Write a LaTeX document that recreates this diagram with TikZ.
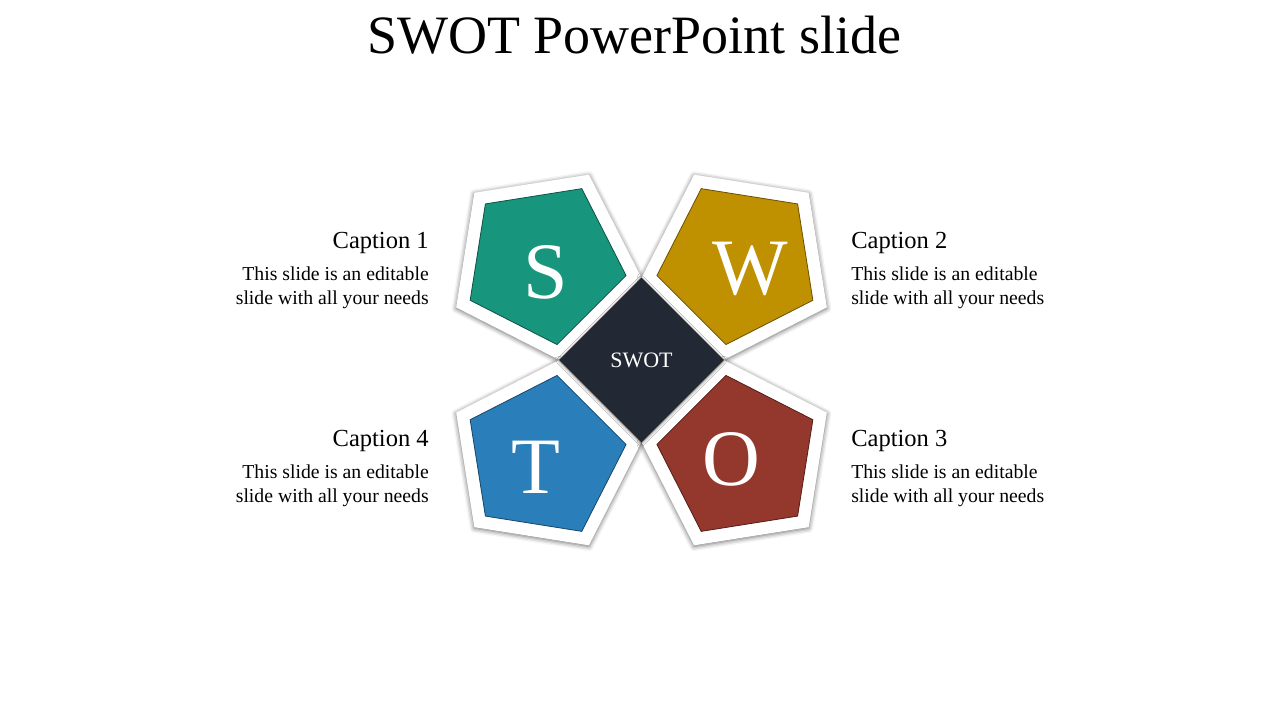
\documentclass[tikz,border=0pt]{standalone}
\usepackage{fontspec}
\setmainfont{Liberation Serif}
\usetikzlibrary{shapes.geometric}
\usetikzlibrary{shadows.blur}

\definecolor{swotS}{HTML}{17967D}
\definecolor{swotW}{HTML}{BF9000}
\definecolor{swotO}{HTML}{94382D}
\definecolor{swotT}{HTML}{2A7FBA}
\definecolor{swotD}{HTML}{222834}

\begin{document}
\begin{tikzpicture}[x=0.75pt, y=-0.75pt,
    frame/.style={regular polygon, regular polygon sides=5, minimum size=148pt,
        inner sep=0pt, outer sep=0pt, fill=white,
        blur shadow={shadow xshift=0pt, shadow yshift=-0.8pt, shadow blur radius=3.5pt, shadow opacity=60}},
    petal/.style={regular polygon, regular polygon sides=5, minimum size=124.5pt,
        inner sep=0pt, outer sep=0pt, fill=#1, draw=#1!55!black, line width=0.6pt},
    letter/.style={text=white, inner sep=0pt, font=\fontsize{60}{60}\selectfont},
    caption/.style={inner sep=0pt, font=\fontsize{18.4}{22}\selectfont},
    body/.style={inner sep=0pt, font=\fontsize{14.8}{18}\selectfont}]

    \useasboundingbox (0,0) rectangle (1280,720);

    \node [anchor=base, inner sep=0pt, font=\fontsize{40.5}{48}\selectfont] (title) at (634, 54) {SWOT PowerPoint slide};

    \foreach \name/\x/\y/\r in {S/544.1/262.6/45, W/738.9/262.6/-45, T/544.1/457.4/135, O/738.9/457.4/-135}
    {
        \node [frame, rotate=\r] (frame\name) at (\x, \y) {};
        \node [petal=swot\name, rotate=\r] (petal\name) at (\x, \y) {};
    }

    \node [diamond, minimum width=123pt, minimum height=123pt, inner sep=0pt,
        fill=swotD, draw=black!85, line width=0.6pt, text=white,
        font=\fontsize{16.5}{16.5}\selectfont,
        blur shadow={shadow xshift=0pt, shadow yshift=-0.8pt, shadow blur radius=2.5pt, shadow opacity=60}] (swot) at (641.5, 360) {SWOT};

    \node [letter] (letterS) at (546, 272) {S};
    \node [letter] (letterW) at (750, 269) {W};
    \node [letter] (letterT) at (535.5, 467.5) {T};
    \node [letter] (letterO) at (731.5, 459) {O};

    \node [caption, anchor=base east] (cap1) at (429, 248) {Caption 1};
    \node [body, align=right, anchor=base east] (txt1) at (429, 304) {This slide is an editable\\slide with all your needs};
    \node [caption, anchor=base west] (cap2) at (851, 248) {Caption 2};
    \node [body, align=left, anchor=base west] (txt2) at (851, 304) {This slide is an editable\\slide with all your needs};
    \node [caption, anchor=base west] (cap3) at (851, 446) {Caption 3};
    \node [body, align=left, anchor=base west] (txt3) at (851, 502) {This slide is an editable\\slide with all your needs};
    \node [caption, anchor=base east] (cap4) at (429, 446) {Caption 4};
    \node [body, align=right, anchor=base east] (txt4) at (429, 502) {This slide is an editable\\slide with all your needs};
\end{tikzpicture}
\end{document}
